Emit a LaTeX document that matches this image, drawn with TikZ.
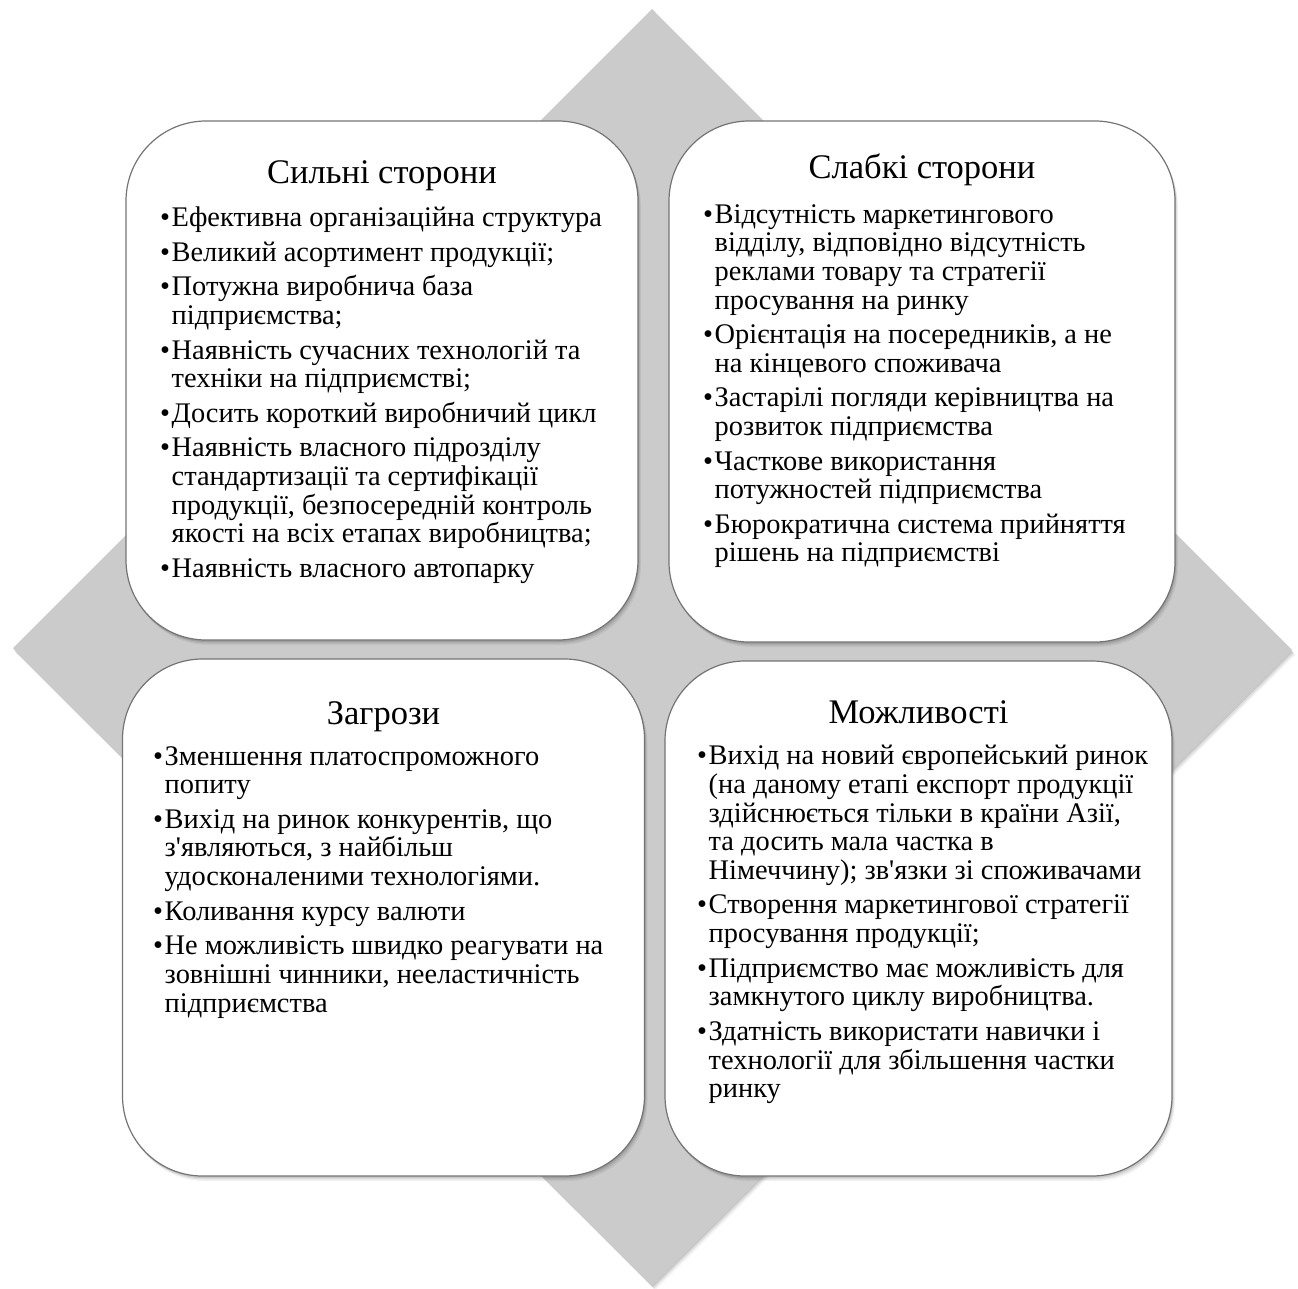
\documentclass[tikz,border=0pt]{standalone}
\usepackage{fontspec}
\setmainfont{Liberation Serif}[Ligatures=TeXOff]
\definecolor{diam}{HTML}{CBCBCB}
\definecolor{edge}{HTML}{747474}
\newcommand\bl{\makebox[11.5pt][l]{•}}
\newcommand\cl{\hspace*{11.5pt}}
\newcommand\pg{\\[5.8pt]}
\begin{document}
\begin{tikzpicture}[x=1pt,y=-1pt,
  softshadow/.style={
    preaction={fill=black, opacity=0.10, transform canvas={shift={(1pt,-2pt)}}},
    preaction={fill=black, opacity=0.08, transform canvas={shift={(2pt,-3.5pt)}}},
    preaction={fill=black, opacity=0.05, transform canvas={shift={(3pt,-5pt)}}}},
  card/.style={draw=edge, line width=1.2pt, fill=white, rounded corners=80pt,
    minimum width=#1, inner sep=0, softshadow},
  ttl/.style={font=\fontsize{34.5}{38}\selectfont, anchor=base, inner sep=0},
  body/.style={font=\fontsize{28.4}{28.7}\selectfont, align=left, anchor=north west, inner sep=0}]
\useasboundingbox (0,0) rectangle (1298,1288);
% diamond
\path[fill=diam, softshadow] (652,9) -- (1292,650) -- (652,1285) -- (13,648) -- cycle;
% cards
\node[card=512pt, minimum height=519pt] (s) at (382,380.5) {};
\node[card=506pt, minimum height=521pt] (w) at (922,381.5) {};
\node[card=522pt, minimum height=517pt] (t) at (383.5,917.5) {};
\node[card=507pt, minimum height=515pt] (o) at (918.5,918.5) {};
% titles
\node[ttl] (st) at (382,183) {Сильні сторони};
\node[ttl] (wt) at (922,178) {Слабкі сторони};
\node[ttl] (tt) at (383.5,724) {Загрози};
\node[ttl] (ot) at (918.5,723) {Можливості};
% bodies
\node[body] (sb) at (160,207) {\bl Ефективна організаційна структура\pg
\bl Великий асортимент продукції;\pg
\bl Потужна виробнича база\\
\cl підприємства;\pg
\bl Наявність сучасних технологій та\\
\cl техніки на підприємстві;\pg
\bl Досить короткий виробничий цикл\pg
\bl Наявність власного підрозділу\\
\cl стандартизації та сертифікації\\
\cl продукції, безпосередній контроль\\
\cl якості на всіх етапах виробництва;\pg
\bl Наявність власного автопарку};
\node[body] (wb) at (703,204) {\bl Відсутність маркетингового\\
\cl відділу, відповідно відсутність\\
\cl реклами товару та стратегії\\
\cl просування на ринку\pg
\bl Орієнтація на посередників, а не\\
\cl на кінцевого споживача\pg
\bl Застарілі погляди керівництва на\\
\cl розвиток підприємства\pg
\bl Часткове використання\\
\cl потужностей підприємства\pg
\bl Бюрократична система прийняття\\
\cl рішень на підприємстві};
\node[body] (tb) at (153,746) {\bl Зменшення платоспроможного\\
\cl попиту\pg
\bl Вихід на ринок конкурентів, що\\
\cl з'являються, з найбільш\\
\cl удосконаленими технологіями.\pg
\bl Коливання курсу валюти\pg
\bl Не можливість швидко реагувати на\\
\cl зовнішні чинники, нееластичність\\
\cl підприємства};
\node[body] (ob) at (697,745) {\bl Вихід на новий європейський ринок\\
\cl (на даному етапі експорт продукції\\
\cl здійснюється тільки в країни Азії,\\
\cl та досить мала частка в\\
\cl Німеччину); зв'язки зі споживачами\pg
\bl Створення маркетингової стратегії\\
\cl просування продукції;\pg
\bl Підприємство має можливість для\\
\cl замкнутого циклу виробництва.\pg
\bl Здатність використати навички і\\
\cl технології для збільшення частки\\
\cl ринку};
\end{tikzpicture}
\end{document}
